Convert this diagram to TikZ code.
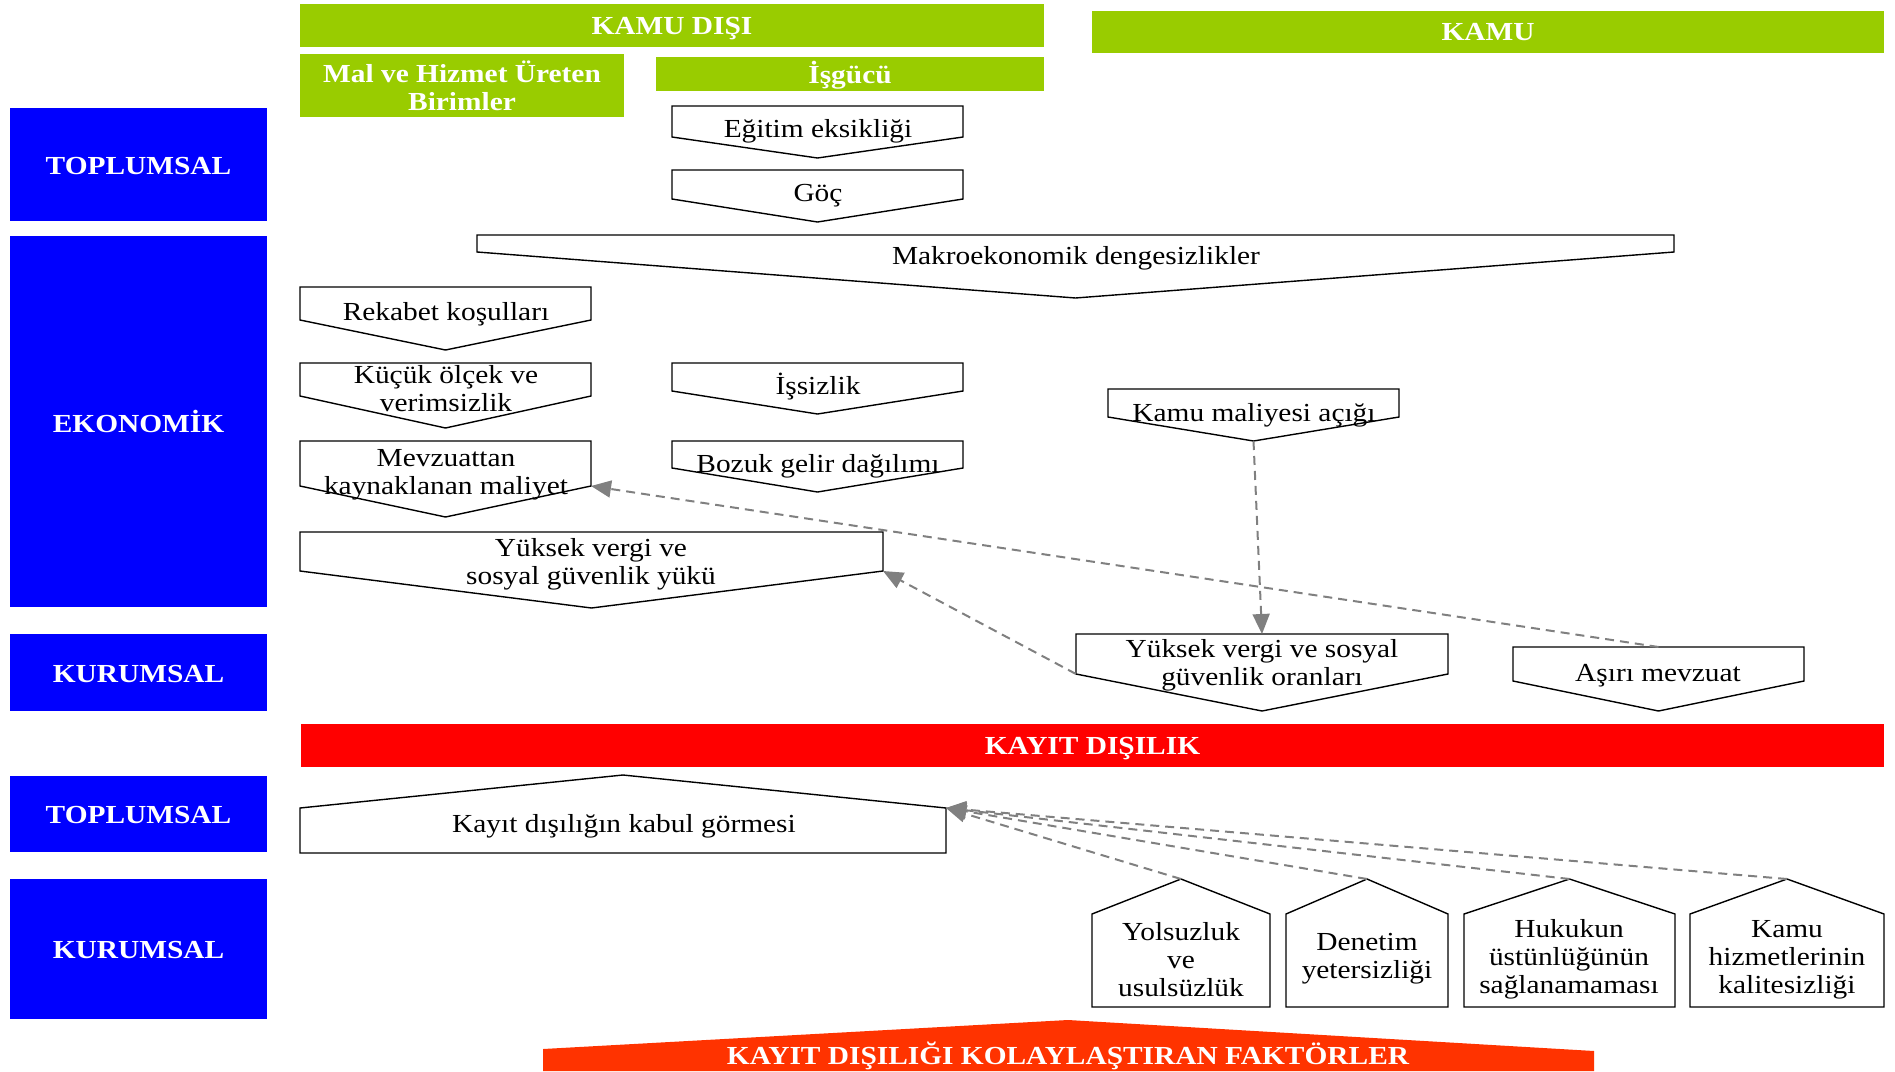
\documentclass[tikz,border=0pt]{standalone}
\usepackage{fontspec}
\setmainfont{Liberation Serif}[FakeStretch=1.13]
\usetikzlibrary{arrows.meta}
\definecolor{hgreen}{HTML}{99CC00}
\definecolor{hblue}{HTML}{0000FF}
\definecolor{hred}{HTML}{FF0000}
\definecolor{horange}{HTML}{FF3300}
\definecolor{agrey}{HTML}{808080}
% name, x1, x2, top, side, tip
\newcommand\dpent[6]{%
  \draw[pentline] (#2,#4) -- (#3,#4) -- (#3,#5) -- ({(#2+#3)/2},#6) -- (#2,#5) -- cycle;
  \coordinate (#1-t) at ({(#2+#3)/2},#4);
  \coordinate (#1-b) at ({(#2+#3)/2},#6);
  \coordinate (#1-l) at (#2,#5);
  \coordinate (#1-r) at (#3,#5);
}
% name, x1, x2, peak, side, bottom
\newcommand\upent[6]{%
  \draw[pentline] (#2,#6) -- (#3,#6) -- (#3,#5) -- ({(#2+#3)/2},#4) -- (#2,#5) -- cycle;
  \coordinate (#1-t) at ({(#2+#3)/2},#4);
  \coordinate (#1-l) at (#2,#5);
  \coordinate (#1-r) at (#3,#5);
}
\tikzset{
  pentline/.style={draw=black, fill=white, line width=1.4pt, line join=miter},
  body/.style={font=\fontsize{26}{28}\selectfont, align=center, inner sep=0pt, yshift=-3.5pt},
  hdrtext/.style={font=\fontsize{26}{28}\selectfont\bfseries, text=white, align=center, inner sep=0pt},
  gbar/.style={fill=hgreen, draw=none, inner sep=0pt},
  bbox/.style={fill=hblue, draw=none, inner sep=0pt, minimum width=257pt},
  dashconn/.style={draw=agrey, line width=2pt, dash pattern=on 9pt off 6pt, -{Triangle[length=20pt,width=17pt]}}
}
\begin{document}
\begin{tikzpicture}[x=1pt,y=-1pt]
\useasboundingbox (0,0) rectangle (1895,1071);

% green headers
\node[gbar, minimum width=744pt, minimum height=43pt] (kamudisi) at (672,25.5) {};
\node[hdrtext, yshift=-3.5pt] (kamudisi-txt) at (kamudisi.center) {KAMU DIŞI};
\node[gbar, minimum width=792pt, minimum height=42pt] (kamu) at (1488,32) {};
\node[hdrtext] (kamu-txt) at (kamu.center) {KAMU};
\node[gbar, minimum width=324pt, minimum height=63pt] (malhiz) at (462,85.5) {};
\node[hdrtext] (malhiz-txt) at (malhiz.center) {Mal ve Hizmet Üreten\\Birimler};
\node[gbar, minimum width=388pt, minimum height=34pt] (isgucu) at (850,74) {};
\node[hdrtext, yshift=-1.2pt] (isgucu-txt) at (isgucu.center) {İşgücü};

% blue side boxes
\node[bbox, minimum height=113pt] (top1) at (138.5,164.5) {};
\node[bbox, minimum height=371pt] (eko) at (138.5,421.5) {};
\node[bbox, minimum height=77pt] (kur1) at (138.5,672.5) {};
\node[bbox, minimum height=76pt] (top2) at (138.5,814) {};
\node[bbox, minimum height=140pt] (kur2) at (138.5,949) {};
\node[hdrtext, yshift=-1.5pt] (top1-txt) at (top1.center) {TOPLUMSAL};
\node[hdrtext, yshift=0.5pt] (eko-txt) at (eko.center) {EKONOMİK};
\node[hdrtext, yshift=-1.5pt] (kur1-txt) at (kur1.center) {KURUMSAL};
\node[hdrtext, yshift=-1.5pt] (top2-txt) at (top2.center) {TOPLUMSAL};
\node[hdrtext, yshift=-1.5pt] (kur2-txt) at (kur2.center) {KURUMSAL};

% red bar
\node[fill=hred, draw=none, inner sep=0pt, minimum width=1583pt, minimum height=43pt] (kayit) at (1092.5,745.5) {};
\node[hdrtext, yshift=-3.5pt] (kayit-txt) at (kayit.center) {KAYIT DIŞILIK};

% orange bottom shape
\fill[horange] (543,1071) -- (543,1049) -- (1068,1020) -- (1594,1051) -- (1594,1071) -- cycle;
\node[hdrtext] (kolay) at (1068,1056) {KAYIT DIŞILIĞI KOLAYLAŞTIRAN FAKTÖRLER};

% down pentagons
\dpent{egt}{672}{963}{106}{137}{158}
\dpent{goc}{672}{963}{170}{199}{222}
\dpent{makro}{477}{1674}{235}{252}{298}
\dpent{rek}{300}{591}{287}{320}{350}
\dpent{kuc}{300}{591}{363}{396}{428}
\dpent{isz}{672}{963}{363}{391}{414}
\dpent{mevz}{300}{591}{441}{486}{517}
\dpent{boz}{672}{963}{441}{468}{492}
\dpent{yvy}{300}{883}{532}{571}{608}
\dpent{kmal}{1108}{1399}{389}{417}{441}
\dpent{yvo}{1076}{1448}{634}{674}{711}
\dpent{asiri}{1513}{1804}{647}{681}{711}

% up pentagons
\upent{kdk}{300}{946}{775}{808}{853}
\upent{yols}{1092}{1270}{879}{914}{1007}
\upent{den}{1286}{1448}{879}{914}{1007}
\upent{huk}{1464}{1675}{879}{914}{1007}
\upent{khiz}{1690}{1884}{879}{914}{1007}

% texts
\node[body] (tegt) at (818,128) {Eğitim eksikliği};
\node[body] (tgoc) at (818,192) {Göç};
\node[body] (tmakro) at (1076,255) {Makroekonomik dengesizlikler};
\node[body] (trek) at (446,311) {Rekabet koşulları};
\node[body] (tkuc) at (446,385.5) {Küçük ölçek ve\\verimsizlik};
\node[body] (tisz) at (818,383.5) {İşsizlik};
\node[body] (tkmal) at (1254,412) {Kamu maliyesi açığı};
\node[body] (tmevz) at (446,471) {Mevzuattan\\kaynaklanan maliyet};
\node[body] (tboz) at (818,463) {Bozuk gelir dağılımı};
\node[body] (tyvy) at (591,561) {Yüksek vergi ve\\sosyal güvenlik yükü};
\node[body] (tyvo) at (1262,662) {Yüksek vergi ve sosyal\\güvenlik oranları};
\node[body] (tasiri) at (1658,672) {Aşırı mevzuat};
\node[body] (tkdk) at (624,823) {Kayıt dışılığın kabul görmesi};
\node[body] (tyols) at (1181,956) {Yolsuzluk\\ve\\usulsüzlük};
\node[body] (tden) at (1367,955) {Denetim\\yetersizliği};
\node[body] (thuk) at (1569,956) {Hukukun\\üstünlüğünün\\sağlanamaması};
\node[body] (tkhiz) at (1787,956) {Kamu\\hizmetlerinin\\kalitesizliği};

% connectors
\draw[dashconn] (kmal-b) -- (yvo-t);
\draw[dashconn] (asiri-t) -- (mevz-r);
\draw[dashconn] (yvo-l) -- (yvy-r);
\draw[dashconn] (yols-t) -- (kdk-r);
\draw[dashconn] (den-t) -- (kdk-r);
\draw[dashconn] (huk-t) -- (kdk-r);
\draw[dashconn] (khiz-t) -- (kdk-r);
\end{tikzpicture}
\end{document}
